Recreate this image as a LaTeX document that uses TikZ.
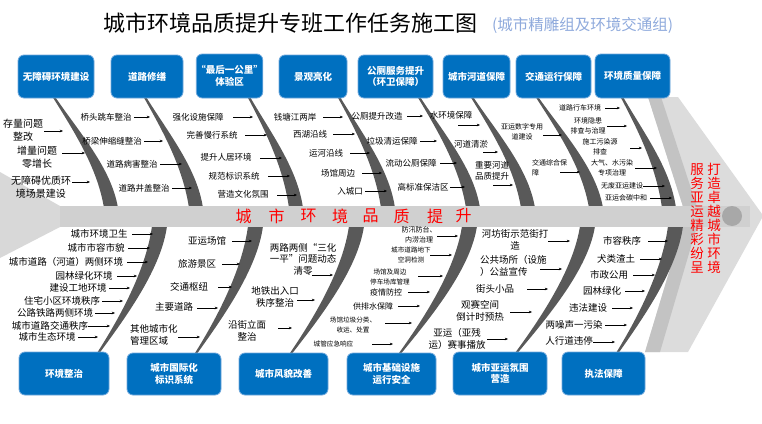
\documentclass[tikz,border=0pt]{standalone}
\usepackage{fontspec}
\setmainfont{Noto Sans CJK SC}
\usetikzlibrary{arrows.meta}
\definecolor{boxblue}{HTML}{0070C0}
\definecolor{boxedge}{HTML}{6FA8DC}
\definecolor{brgrey}{HTML}{595959}
\definecolor{barg}{HTML}{D0D0D0}
\definecolor{fletch}{HTML}{D8D8D8}
\definecolor{lightg}{HTML}{DCDCDC}
\definecolor{midg}{HTML}{C3C3C3}
\definecolor{circg}{HTML}{A8A8A8}
\definecolor{subblue}{HTML}{8FAADC}
\definecolor{redt}{HTML}{FF0000}
\newcommand{\topbr}[2]{%
  \fill[brc] (#1,96) .. controls ({#1+0.35*(#2-#1)},133) and ({#2-14-0.1*(#2-#1)},168) .. ({#2-14},208)
   -- (#2,208) .. controls ({#2-0.1*(#2-#1)},168) and ({#1+2.5+0.38*(#2-#1)},133) .. ({#1+2.5},96) -- cycle;}
\newcommand{\botbr}[2]{%
  \fill[brc] (#1,226) .. controls ({#1-0.08*(#1-#2)},268) and ({#2+2.5+0.4*(#1-#2)},315) .. ({#2+2.5},353)
   -- (#2,353) .. controls ({#2+0.35*(#1-#2)},315) and ({#1-15-0.08*(#1-#2)},268) .. ({#1-15},226) -- cycle;}
\newcommand{\arw}[4]{\coordinate (#1-s) at (#2,#4); \coordinate (#1-e) at (#3,#4); \draw[arr] (#1-s) -- (#1-e);}
\begin{document}
\begin{tikzpicture}[x=1pt,y=-1pt,
  lab/.style={font=\fontsize{8.5}{10.5}\selectfont,inner sep=0pt,align=center},
  labA/.style={font=\fontsize{10}{12.5}\selectfont,inner sep=0pt,align=center},
  labs/.style={font=\fontsize{7}{10}\selectfont,inner sep=0pt,align=center},
  labt/.style={font=\fontsize{6.6}{9.5}\selectfont,inner sep=0pt,align=center},
  labb/.style={font=\fontsize{9.5}{11.5}\selectfont,inner sep=0pt,align=center},
  arr/.style={-{Stealth[length=3.2pt,width=2.6pt]},line width=0.6pt,black},
  box/.style={draw=boxedge,line width=0.8pt,fill=boxblue,rounded corners=6pt,text=white,
    font=\fontsize{9.5}{11.5}\selectfont\bfseries,align=center,inner sep=0pt},
  brc/.style={fill=brgrey},
  spt/.style={font=\fontsize{16}{16}\selectfont,text=redt,inner sep=0pt},
  rcol/.style={font=\fontsize{13.5}{14.1}\selectfont,text=redt,inner sep=0pt,align=center},
]
\useasboundingbox (0,0) rectangle (762,423);

% title
\node[font=\fontsize{22}{24}\selectfont,inner sep=0pt] (title) at (290,23) {城市环境品质提升专班工作任务施工图};
\node[font=\fontsize{15.5}{17}\selectfont,text=subblue,anchor=west,inner sep=0pt] (sub) at (492,25) {(城市精雕组及环境交通组)};

% tail and head of the spine
\fill[fletch] (0,172) -- (60,206) -- (60,227) -- (0,258) -- cycle;
\fill[lightg] (648,97) -- (678,97) -- (762,214) -- (762,218) -- (688,352) -- (645,352) -- (686,216) -- cycle;
\fill[midg] (648,97) -- (661,97) -- (700,216) -- (660,352) -- (645,352) -- (686,216) -- cycle;

% branches
\topbr{52}{118}
\topbr{143}{203}
\topbr{247}{303}
\topbr{337}{395}
\topbr{417}{480}
\topbr{470}{535}
\topbr{535}{603}
\topbr{620}{676}
\botbr{167}{97}
\botbr{263}{195}
\botbr{364}{290}
\botbr{477}{399}
\botbr{595}{515}
\botbr{683}{616}

% spine
\fill[barg] (60,206) rectangle (750,227);
\fill[circg] (732,216) circle[radius=10pt];

% top boxes
\node[box,minimum width=76pt,minimum height=43pt] (T1) at (56,76.5) {无障碍环境建设};
\node[box,minimum width=72pt,minimum height=43pt] (T2) at (147,76.5) {道路修缮};
\node[box,minimum width=65pt,minimum height=44pt] (T3) at (229.5,76) {“最后一公里”\\体验区};
\node[box,minimum width=68pt,minimum height=43pt] (T4) at (313,76.5) {景观亮化};
\node[box,minimum width=75pt,minimum height=43pt] (T5) at (395.5,76.5) {公厕服务提升\\（环卫保障）};
\node[box,minimum width=67pt,minimum height=43pt] (T6) at (476.5,76.5) {城市河道保障};
\node[box,minimum width=75pt,minimum height=43pt] (T7) at (553.5,76.5) {交通运行保障};
\node[box,minimum width=75pt,minimum height=44pt] (T8) at (632.5,76) {环境质量保障};

% bottom boxes
\node[box,minimum width=90pt,minimum height=43pt] (B1) at (64,373.5) {环境整治};
\node[box,minimum width=94pt,minimum height=42pt] (B2) at (174,374) {城市国际化\\标识系统};
\node[box,minimum width=89pt,minimum height=42pt] (B3) at (283.5,374) {城市风貌改善};
\node[box,minimum width=89pt,minimum height=42pt] (B4) at (391.5,374) {城市基础设施\\运行安全};
\node[box,minimum width=94pt,minimum height=43pt] (B5) at (500,373.5) {城市亚运氛围\\营造};
\node[box,minimum width=83pt,minimum height=43pt] (B6) at (603.5,373.5) {执法保障};

% branch 1
\node[labA] (a1) at (23,130) {存量问题\\整改}; \arw{a1}{44}{63}{131}
\node[labA] (a2) at (37,157) {增量问题\\零增长}; \arw{a2}{62}{85}{153}
\node[labA] (a3) at (41,187) {无障碍优质环\\境场景建设}; \arw{a3}{72}{90}{182}
% branch 2
\node[lab] (b1) at (106,117) {桥头跳车整治}; \arw{b1}{134}{150}{117}
\node[lab] (b2) at (112,141) {桥梁伸缩缝整治}; \arw{b2}{144}{163}{141}
\node[lab] (b3) at (132,164) {道路病害整治}; \arw{b3}{160}{182}{164}
\node[lab] (b4) at (144,188) {道路井盖整治}; \arw{b4}{172}{192}{188}
% branch 3
\node[lab] (c1) at (198,117) {强化设施保障}; \arw{c1}{233}{253}{117}
\node[lab] (c2) at (212,135) {完善慢行系统}; \arw{c2}{245}{267}{135}
\node[lab] (c3) at (226,157) {提升人居环境}; \arw{c3}{260}{282}{158}
\node[lab] (c4) at (234,176) {规范标识系统}; \arw{c4}{268}{290}{176}
\node[lab] (c5) at (243,194) {营造文化氛围}; \arw{c5}{277}{297}{195}
% branch 4
\node[lab] (d1) at (295,117) {钱塘江两岸}; \arw{d1}{323}{343}{117}
\node[lab] (d2) at (310,134) {西湖沿线}; \arw{d2}{333}{355}{134}
\node[lab] (d3) at (326,153) {运河沿线}; \arw{d3}{350}{370}{153}
\node[lab] (d4) at (338,173) {场馆周边}; \arw{d4}{362}{382}{173}
\node[lab] (d5) at (350,191) {入城口}; \arw{d5}{365}{387}{191}
% branch 5
\node[lab] (e1) at (377,116) {公厕提升改造}; \arw{e1}{407}{423}{116}
\node[lab] (e2) at (392,141) {垃圾清运保障}; \arw{e2}{420}{437}{141}
\node[lab] (e3) at (411,163) {流动公厕保障}; \arw{e3}{440}{457}{163}
\node[lab] (e4) at (423,187) {高标准保洁区}; \arw{e4}{450}{465}{187}
% branch 6
\node[lab] (f1) at (451,115) {水环境保障}; \arw{f1}{458}{480}{125}
\node[lab] (f2) at (471,144) {河道清淤}; \arw{f2}{483}{498}{152}
\node[lab] (f3) at (492,171) {重要河道\\品质提升}; \arw{f3}{493}{513}{185}
% branch 7
\node[labs] (g1) at (522,132) {亚运数字专用\\道建设}; \arw{g1}{543}{562}{135}
\node[labs,align=left,anchor=west] (g2) at (532,168) {交通综合保\\障}; \arw{g2}{560}{580}{172}
% branch 8
\node[labs] (h1) at (580,108) {道路行车环境}; \arw{h1}{605}{620}{108}
\node[labs] (h2) at (588,126) {环境隐患\\排查与治理}; \arw{h2}{607}{627}{126}
\node[labs] (h3) at (600,147) {施工污染源\\排查}; \arw{h3}{630}{642}{148}
\node[labs] (h4) at (612,168) {大气、水污染\\专项治理}; \arw{h4}{635}{657}{168}
\node[labs] (h5) at (622,186) {无废亚运建设}; \arw{h5}{643}{665}{186}
\node[labs] (h6) at (626,198) {亚运会碳中和}; \arw{h6}{650}{672}{198}

% bottom branch 1
\node[labb] (i1) at (99,234) {城市环境卫生}; \arw{i1}{132}{153}{234}
\node[labb] (i2) at (96,248) {城市市容市貌}; \arw{i2}{128}{150}{248}
\node[labb] (i3) at (66,262) {城市道路（河道）两侧环境}; \arw{i3}{127}{148}{262}
\node[labb] (i4) at (84,276) {园林绿化环境}; \arw{i4}{117}{137}{276}
\node[labb] (i5) at (78,288) {建设工地环境}; \arw{i5}{109}{130}{288}
\node[labb] (i6) at (62,301) {住宅小区环境秩序}; \arw{i6}{102}{123}{301}
\node[labb] (i7) at (55,313) {公路铁路两侧环境}; \arw{i7}{95}{115}{313}
\node[labb] (i8) at (50,326) {城市道路交通秩序}; \arw{i8}{88}{110}{326}
\node[labb] (i9) at (47,337) {城市生态环境}; \arw{i9}{78}{98}{337}
% bottom branch 2
\node[labb] (j1) at (207,241) {亚运场馆}; \arw{j1}{232}{252}{241}
\node[labb] (j2) at (197,264) {旅游景区}; \arw{j2}{222}{240}{264}
\node[labb] (j3) at (189,287) {交通枢纽}; \arw{j3}{218}{232}{287}
\node[labb] (j4) at (174,307) {主要道路}; \arw{j4}{197}{218}{308}
\node[labb,align=left,anchor=west] (j5) at (130,335) {其他城市化\\管理区域}; \arw{j5}{178}{200}{337}
% bottom branch 3
\node[labb] (k1) at (303,259) {两路两侧“三化\\一平”问题动态\\清零}; \arw{k1}{312}{333}{275}
\node[labb] (k2) at (275,297) {地铁出入口\\秩序整治}; \arw{k2}{297}{315}{300}
\node[labb] (k3) at (247,331) {沿街立面\\整治}; \arw{k3}{278}{292}{328}
% bottom branch 4
\node[labs] (l1) at (419,235) {防汛防台、\\内涝治理}; \arw{l1}{437}{458}{236}
\node[labt] (l2) at (411,255) {城市道路地下\\空洞检测}; \arw{l2}{430}{452}{255}
\node[labt] (l3) at (390,277) {场馆及周边\\停车场库管理}; \arw{l3}{418}{443}{276}
\node[font=\fontsize{8}{9}\selectfont,inner sep=0pt] (l4) at (386,292) {疫情防控}; \arw{l4}{408}{430}{292}
\node[font=\fontsize{8}{9}\selectfont,inner sep=0pt] (l5) at (373,306) {供排水保障}; \arw{l5}{398}{420}{306}
\node[labt] (l6) at (353,325) {场馆垃圾分类、\\收运、处置}; \arw{l6}{385}{412}{323}
\node[labt] (l7) at (333.5,344) {城管应急响应}; \arw{l7}{372}{393}{344}
% bottom branch 5
\node[labb] (m1) at (515,240) {河坊街示范街打\\造}; \arw{m1}{548}{570}{241}
\node[labb,align=left,anchor=west] (m2) at (480,266) {公共场所（设施\\）公益宣传}; \arw{m2}{540}{562}{269}
\node[labb] (m3) at (495,289) {街头小品}; \arw{m3}{527}{548}{289}
\node[labb] (m4) at (480,311) {观赛空间\\倒计时预热}; \arw{m4}{510}{532}{312}
\node[labb] (m5) at (457,339) {亚运（亚残\\运）赛事播放}; \arw{m5}{487}{508}{339}
% bottom branch 6
\node[labb] (n1) at (622,241) {市容秩序}; \arw{n1}{648}{668}{241}
\node[labb] (n2) at (616,259) {犬类渣土}; \arw{n2}{640}{662}{259}
\node[labb] (n3) at (609,275) {市政公用}; \arw{n3}{633}{655}{275}
\node[labb] (n4) at (602,291) {园林绿化}; \arw{n4}{625}{645}{291}
\node[labb] (n5) at (588,308) {违法建设}; \arw{n5}{612}{633}{308}
\node[labb] (n6) at (574,325) {两噪声一污染}; \arw{n6}{605}{627}{325}
\node[labb] (n7) at (569,341) {人行道违停}; \arw{n7}{593}{615}{342}

% spine text
\node[spt] (s1) at (243.5,216) {城};
\node[spt] (s2) at (276.5,216) {市};
\node[spt] (s3) at (308.5,216) {环};
\node[spt] (s4) at (340,216) {境};
\node[spt] (s5) at (370.5,216) {品};
\node[spt] (s6) at (401.5,216) {质};
\node[spt] (s7) at (435,216) {提};
\node[spt] (s8) at (463.5,216) {升};

% head text
\node[rcol] (r1) at (697,218.5) {服\\务\\亚\\运\\精\\彩\\纷\\呈};
\node[rcol] (r2) at (714,218.5) {打\\造\\卓\\越\\城\\市\\环\\境};
\end{tikzpicture}
\end{document}
